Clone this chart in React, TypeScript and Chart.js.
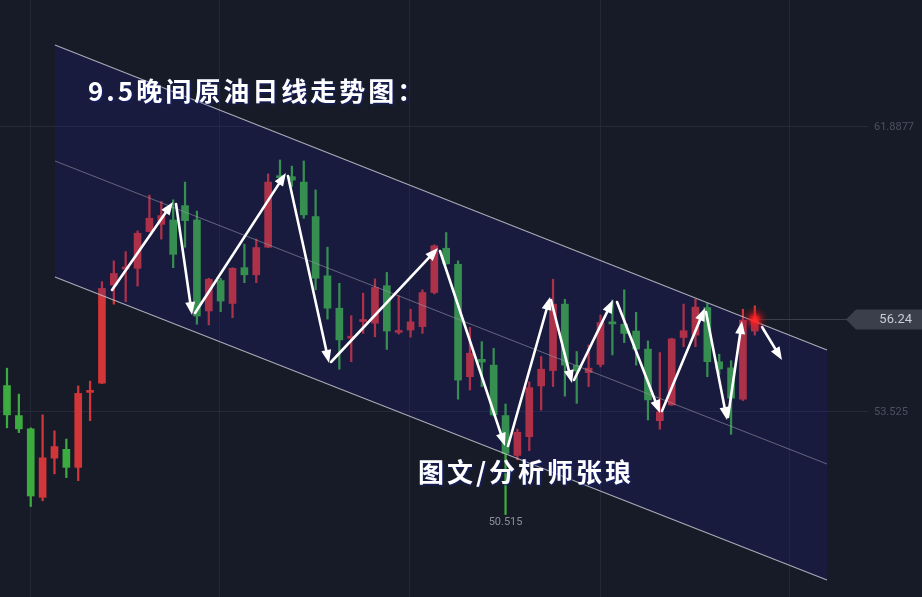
import React, { useEffect, useRef } from "react";
import { Chart, registerables } from "chart.js";

Chart.register(...registerables);

// ---- Candles (daily crude oil) ----
const OPEN = [
  54.30, 53.42, 53.03, 51.02, 52.17, 52.43, 51.90, 54.10, 54.37, 57.25,
  57.72, 57.74, 58.82, 59.03, 59.16, 59.58, 59.16, 56.49, 57.38, 56.71,
  57.76, 57.55, 58.36, 60.45, 60.43, 60.27, 59.26, 57.52, 56.57, 55.69,
  56.18, 56.13, 57.23, 55.86, 55.93, 56.03, 57.03, 58.33, 57.86, 54.56,
  55.07, 54.90, 53.42, 52.25, 52.80, 54.29, 54.74, 56.69, 54.89, 54.68,
  54.92, 56.16, 56.10, 55.90, 55.37, 53.27, 53.73, 55.71, 55.78, 56.59,
  55.00, 54.82, 53.90, 55.90,
];
const HIGH = [
  54.81, 54.05, 53.06, 53.44, 52.97, 52.73, 54.29, 54.43, 57.35, 57.96,
  58.23, 58.84, 59.89, 59.70, 59.75, 60.27, 59.42, 57.45, 57.45, 57.76,
  58.45, 58.60, 60.51, 60.92, 60.74, 60.89, 60.04, 58.36, 57.30, 56.35,
  57.01, 57.43, 57.62, 56.94, 56.54, 57.11, 58.43, 58.79, 57.96, 56.01,
  55.59, 55.39, 53.76, 53.02, 54.41, 55.15, 57.42, 56.83, 55.30, 55.49,
  56.37, 56.81, 57.11, 56.45, 55.61, 55.27, 55.69, 56.69, 56.83, 56.71,
  55.22, 55.03, 56.54, 56.64,
];
const LOW = [
  53.06, 52.92, 50.75, 50.92, 51.71, 51.60, 51.51, 53.27, 54.36, 56.69,
  56.76, 57.22, 58.81, 58.60, 57.76, 58.36, 56.10, 56.08, 56.47, 56.29,
  57.32, 57.32, 58.35, 60.39, 60.14, 59.21, 57.11, 56.25, 54.78, 55.00,
  55.83, 55.73, 55.36, 55.81, 55.72, 55.83, 56.99, 57.86, 53.90, 54.17,
  54.27, 53.41, 50.515, 52.12, 52.39, 53.58, 54.27, 53.99, 53.78, 54.27,
  54.85, 55.20, 55.56, 54.90, 53.29, 53.02, 53.72, 55.44, 55.44, 54.56,
  54.63, 52.87, 53.86, 55.78,
];
const CLOSE = [
  53.44, 53.03, 51.06, 52.18, 52.51, 51.90, 54.07, 54.14, 57.15, 57.59,
  57.78, 58.77, 59.21, 59.29, 58.15, 59.14, 56.34, 57.42, 56.78, 57.74,
  57.55, 58.35, 60.27, 60.40, 60.33, 59.31, 57.45, 56.57, 55.64, 55.73,
  56.22, 57.18, 55.90, 55.90, 56.17, 57.03, 58.40, 57.87, 54.46, 55.25,
  54.99, 53.44, 52.31, 52.93, 54.24, 54.78, 56.69, 54.90, 54.73, 54.81,
  56.15, 56.11, 55.83, 55.37, 53.88, 53.53, 55.67, 55.91, 56.60, 55.00,
  54.79, 53.93, 56.22, 56.24,
];

// ---- Descending channel (bar index, price) ----
const CHANNEL_X = [4.04, 69.08];
const UPPER_Y = [64.294, 55.344];
const MIDDLE_Y = [60.89, 51.999];
const LOWER_Y = [57.486, 48.595];

// ---- Hand-drawn arrows (bar index, price) ----
const ARROW_FROM_X = [8.85, 14.24, 15.84, 23.67, 27.3, 36.48, 42.21, 45.83, 47.77, 51.39, 55.18, 58.89, 60.74, 63.61];
const ARROW_FROM_Y = [57.105, 59.628, 56.43, 60.45, 54.992, 58.249, 52.527, 56.811, 54.464, 56.752, 53.554, 56.459, 53.378, 56.019];
const ARROW_TO_X = [13.98, 15.59, 23.5, 27.13, 36.31, 41.95, 45.75, 47.6, 51.05, 55.01, 58.8, 60.66, 61.92, 65.29];
const ARROW_TO_Y = [59.687, 56.371, 60.538, 54.963, 58.337, 52.527, 56.899, 54.376, 56.811, 53.495, 56.576, 53.29, 56.195, 55.051];

// ---- Axis ----
const Y_TICKS = [61.8877, 53.525];
const Y_TICK_LABELS = ["61.8877", "53.525"];
const GRID_X = [1.94, 17.94, 33.95, 49.96, 65.96];
const X_MIN = -0.5897;
const X_MAX = 72.536;
const Y_MIN = 48.096;
const Y_MAX = 65.614;

const LAST_PRICE = 56.24;
const LAST_PRICE_LABEL = "56.24";
const LOW_MARK_INDEX = 42;
const LOW_MARK_LABEL = "50.515";

const TITLE = "9.5晚间原油日线走势图：";
const CREDIT = "图文/分析师张琅";

const RED = "#d23638";
const GREEN = "#3cab40";
const BG = "#171b28";

const decorPlugin = {
  id: "decor",
  beforeDraw(chart: any) {
    const { ctx, width, height } = chart;
    ctx.save();
    ctx.fillStyle = BG;
    ctx.fillRect(0, 0, width, height);
    ctx.restore();
  },
  afterDatasetsDraw(chart: any) {
    const { ctx } = chart;
    const xs = chart.scales.x;
    const ys = chart.scales.y;
    ctx.save();
    // arrows
    ctx.strokeStyle = "#ffffff";
    ctx.fillStyle = "#ffffff";
    ctx.lineWidth = 2.6;
    ctx.lineCap = "round";
    for (let i = 0; i < ARROW_FROM_X.length; i++) {
      const x1 = xs.getPixelForValue(ARROW_FROM_X[i]);
      const y1 = ys.getPixelForValue(ARROW_FROM_Y[i]);
      const x2 = xs.getPixelForValue(ARROW_TO_X[i]);
      const y2 = ys.getPixelForValue(ARROW_TO_Y[i]);
      const a = Math.atan2(y2 - y1, x2 - x1);
      const c = Math.cos(a);
      const s = Math.sin(a);
      const head = 13;
      const half = 5;
      ctx.beginPath();
      ctx.moveTo(x1, y1);
      ctx.lineTo(x2 - c * head * 0.7, y2 - s * head * 0.7);
      ctx.stroke();
      const bx = x2 - c * head;
      const by = y2 - s * head;
      ctx.beginPath();
      ctx.moveTo(x2, y2);
      ctx.lineTo(bx - s * half, by + c * half);
      ctx.lineTo(bx + s * half, by - c * half);
      ctx.closePath();
      ctx.fill();
    }

    // last price line + tag
    const last = CLOSE.length - 1;
    const gx = xs.getPixelForValue(last);
    const gy = ys.getPixelForValue(LAST_PRICE);
    ctx.strokeStyle = "#3a3e4c";
    ctx.lineWidth = 1;
    ctx.beginPath();
    ctx.moveTo(gx + 4, Math.round(gy) + 0.5);
    ctx.lineTo(848, Math.round(gy) + 0.5);
    ctx.stroke();

    ctx.fillStyle = "#3b3e4b";
    ctx.beginPath();
    ctx.moveTo(846, gy);
    ctx.lineTo(856, gy - 10);
    ctx.lineTo(922, gy - 10);
    ctx.lineTo(922, gy + 10);
    ctx.lineTo(856, gy + 10);
    ctx.closePath();
    ctx.fill();
    ctx.fillStyle = "#c9ccd4";
    ctx.font = "13px Roboto";
    ctx.textAlign = "right";
    ctx.textBaseline = "middle";
    ctx.fillText(LAST_PRICE_LABEL, 912, gy + 0.5);

    // glow on last close
    const g = ctx.createRadialGradient(gx, gy, 0, gx, gy, 13);
    g.addColorStop(0, "rgba(255,45,45,1)");
    g.addColorStop(0.25, "rgba(255,30,30,0.85)");
    g.addColorStop(0.6, "rgba(220,20,20,0.3)");
    g.addColorStop(1, "rgba(200,0,0,0)");
    ctx.fillStyle = g;
    ctx.beginPath();
    ctx.arc(gx, gy, 13, 0, Math.PI * 2);
    ctx.fill();

    // low mark label
    ctx.fillStyle = "#8b909d";
    ctx.font = "11px Roboto";
    ctx.textAlign = "center";
    ctx.fillText(LOW_MARK_LABEL, xs.getPixelForValue(LOW_MARK_INDEX), ys.getPixelForValue(LOW[LOW_MARK_INDEX]) + 8);

    // texts
    ctx.font = "bold 26px 'Noto Sans CJK SC'";
    ctx.textAlign = "left";
    ctx.textBaseline = "middle";
    (ctx as any).letterSpacing = "3px";
    ctx.shadowColor = "rgba(20,30,120,0.9)";
    ctx.shadowBlur = 2;
    ctx.shadowOffsetX = 1;
    ctx.shadowOffsetY = 1;
    ctx.fillStyle = "#ffffff";
    ctx.fillText(TITLE, 88, 91);
    ctx.fillText(CREDIT, 418, 472);
    ctx.restore();
  },
};

export default function App() {
  const ref = useRef<HTMLCanvasElement | null>(null);

  useEffect(() => {
    if (!ref.current) return;
    const idx = OPEN.map((_, i) => i);
    const colors = idx.map((i) => (CLOSE[i] >= OPEN[i] ? RED : GREEN));
    const chart = new Chart(ref.current, {
      type: "bar",
      data: {
        datasets: [
          {
            type: "line",
            data: CHANNEL_X.map((x, i) => ({ x, y: UPPER_Y[i] })),
            borderColor: "rgba(195,195,205,0.85)",
            borderWidth: 1.2,
            pointRadius: 0,
            fill: "+1",
            backgroundColor: "rgba(30,28,150,0.2)",
            order: 2,
          } as any,
          {
            type: "line",
            data: CHANNEL_X.map((x, i) => ({ x, y: LOWER_Y[i] })),
            borderColor: "rgba(195,195,205,0.85)",
            borderWidth: 1.2,
            pointRadius: 0,
            fill: false,
            order: 1,
          } as any,
          {
            type: "line",
            data: CHANNEL_X.map((x, i) => ({ x, y: MIDDLE_Y[i] })),
            borderColor: "rgba(150,150,165,0.6)",
            borderWidth: 1,
            pointRadius: 0,
            fill: false,
            order: 1,
          } as any,
          {
            type: "bar",
            data: idx.map((i) => ({ x: i, y: [LOW[i], HIGH[i]] })),
            backgroundColor: colors,
            barThickness: 1.6,
            grouped: false,
            borderWidth: 0,
            order: 4,
          } as any,
          {
            type: "bar",
            data: idx.map((i) => ({ x: i, y: [OPEN[i], CLOSE[i]] })),
            backgroundColor: colors,
            barThickness: 7,
            minBarLength: 2,
            grouped: false,
            borderWidth: 0,
            order: 3,
          } as any,
        ],
      },
      options: {
        animation: false,
        responsive: false,
        maintainAspectRatio: false,
        events: [],
        layout: { padding: 0 },
        plugins: {
          legend: { display: false },
          tooltip: { enabled: false },
        },
        scales: {
          x: {
            type: "linear",
            min: X_MIN,
            max: X_MAX,
            offset: false,
            grid: { color: "#232736", drawTicks: false, offset: false },
            border: { display: false },
            ticks: { display: false },
            afterBuildTicks: (s: any) => {
              s.ticks = GRID_X.map((v) => ({ value: v }));
            },
            afterFit: (s: any) => {
              s.height = 0;
              s.paddingLeft = 0;
              s.paddingRight = 0;
            },
          },
          y: {
            type: "linear",
            position: "right",
            min: Y_MIN,
            max: Y_MAX,
            grid: { color: "#262a39", drawTicks: false },
            border: { display: false },
            ticks: {
              color: "#4c5162",
              font: { size: 11, family: "Roboto" },
              padding: 6,
              callback: (_v: any, i: number) => Y_TICK_LABELS[i],
            },
            afterBuildTicks: (s: any) => {
              s.ticks = Y_TICKS.map((v) => ({ value: v }));
            },
            afterFit: (s: any) => {
              s.width = 54;
              s.paddingTop = 0;
              s.paddingBottom = 0;
            },
          },
        },
      } as any,
      plugins: [decorPlugin],
    });
    return () => chart.destroy();
  }, []);

  return (
    <div style={{ position: "fixed", left: 0, top: 0, width: 922, height: 597, background: BG }}>
      <canvas ref={ref} width={922} height={597} style={{ display: "block" }} />
    </div>
  );
}
